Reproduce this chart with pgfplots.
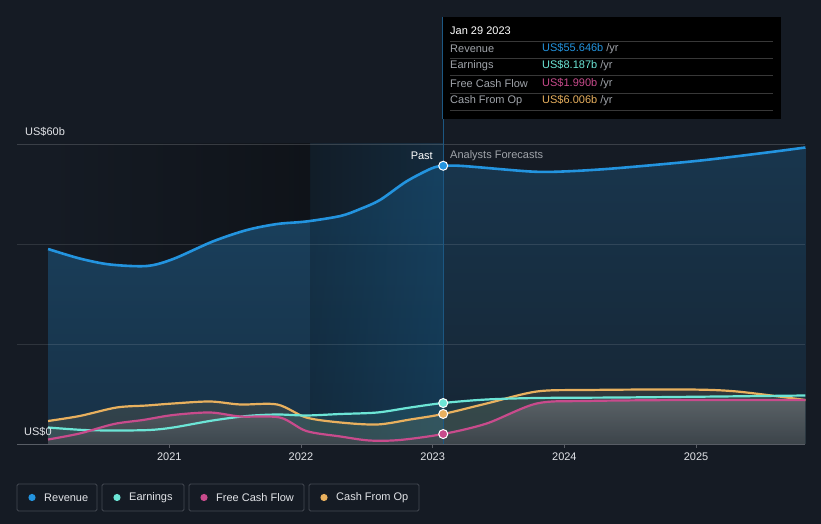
\documentclass[border=0pt]{standalone}
\usepackage{pgfplots}
\pgfplotsset{compat=1.18}
\usepackage{pgfplotstable}
\usepackage{fontspec}
\setmainfont{Liberation Sans}

\definecolor{bg}{HTML}{151B24}
\definecolor{pastbg}{HTML}{0F1319}
\definecolor{gridc}{HTML}{2F353F}
\definecolor{revc}{HTML}{2394DF}
\definecolor{earnc}{HTML}{6CE5D6}
\definecolor{fcfc}{HTML}{C84B8C}
\definecolor{cfoc}{HTML}{E8B05E}
\definecolor{labc}{HTML}{A0A4AA}
\definecolor{txtc}{HTML}{E2E4E8}

\pgfplotstableread{
x y
2020.08 39.0
2020.32 37.1
2020.55 35.9
2020.83 35.6
2021.03 37.0
2021.33 40.5
2021.59 42.8
2021.82 44.0
2022.04 44.5
2022.30 45.6
2022.45 47.0
2022.60 48.8
2022.80 52.5
2022.99 55.1
2023.08 55.6
2023.23 55.6
2023.74 54.5
2023.99 54.5
2024.37 55.1
2025.00 56.6
2025.51 58.2
2025.83 59.3
}\revenue

\pgfplotstableread{
x y
2020.08 3.3
2020.35 2.8
2020.60 2.7
2020.85 2.8
2021.03 3.3
2021.33 4.7
2021.59 5.6
2021.82 5.9
2022.04 5.7
2022.30 6.0
2022.58 6.3
2022.83 7.3
2023.08 8.2
2023.41 8.9
2023.79 9.2
2024.42 9.3
2025.18 9.5
2025.83 9.7
}\earnings

\pgfplotstableread{
x y
2020.08 0.9
2020.32 2.1
2020.58 4.0
2020.80 4.8
2021.03 5.8
2021.31 6.3
2021.54 5.5
2021.84 5.3
2022.04 2.6
2022.30 1.5
2022.52 0.7
2022.75 0.8
2023.08 2.0
2023.41 4.1
2023.79 8.1
2024.17 8.6
2024.93 8.8
2025.83 8.8
}\fcf

\pgfplotstableread{
x y
2020.08 4.6
2020.32 5.6
2020.60 7.3
2020.83 7.7
2021.03 8.1
2021.31 8.5
2021.54 7.9
2021.82 7.9
2022.04 5.3
2022.30 4.3
2022.58 3.9
2022.83 4.9
2023.08 6.0
2023.41 8.1
2023.79 10.5
2024.17 10.8
2024.93 10.9
2025.31 10.5
2025.83 8.8
}\cfo

\begin{document}
\begin{tikzpicture}[x=1bp,y=1bp,font=\fontsize{11bp}{13bp}\selectfont]
\fill[bg] (0,0) rectangle (821,524);
\useasboundingbox (0,0) rectangle (821,524);

\begin{axis}[
    at={(17bp,80bp)}, anchor=south west,
    scale only axis, width=788bp, height=300bp,
    xmin=2019.844, xmax=2025.827, ymin=0, ymax=60,
    axis line style={draw=none},
    xtick={2021,2022,2023,2024,2025}, xtick pos=bottom,
    ytick=\empty,
    major tick length=4bp, tick align=outside,
    xtick style={draw=gridc!80!white, line width=0.8bp},
    /pgf/number format/1000 sep={},
    /pgf/number format/assume math mode=true,
    xticklabel style={text=txtc, font=\fontsize{11bp}{13bp}\selectfont, yshift=-1bp},
    clip=false,
]
% darker past background
\fill[left color=bg, right color=pastbg] (axis cs:2020.08,0) rectangle (axis cs:2022.07,60);

% revenue area fills
\addplot[draw=none, top color=revc!32!bg, bottom color=revc!18!bg, restrict x to domain=2020:2023.081]
  table {\revenue} \closedcycle;
\addplot[draw=none, top color=revc!22!bg, bottom color=revc!8!bg, restrict x to domain=2023.079:2026]
  table {\revenue} \closedcycle;
\fill[left color=revc!25!bg, right color=revc!75!bg, fill opacity=0.22] (axis cs:2022.07,0) rectangle (axis cs:2023.08,60);

% small series fills
\addplot[draw=none, fill=cfoc, fill opacity=0.12, smooth] table {\cfo} \closedcycle;
\addplot[draw=none, fill=earnc, fill opacity=0.10, smooth] table {\earnings} \closedcycle;
\addplot[draw=none, top color=white!35!bg, bottom color=white!18!bg, fill opacity=0.75, smooth] table {\fcf} \closedcycle;

% grid lines and zero line
\draw[white, opacity=0.11, line width=0.8bp] (axis cs:2019.844,20) -- (axis cs:2025.827,20);
\draw[white, opacity=0.11, line width=0.8bp] (axis cs:2019.844,40) -- (axis cs:2025.827,40);
\draw[white, opacity=0.16, line width=0.8bp] (axis cs:2019.844,60) -- (axis cs:2025.827,60);
\draw[gridc!80!white, line width=0.8bp] (axis cs:2019.844,0) -- (axis cs:2025.827,0);

% lines
\addplot[revc, line width=2.6bp, smooth] table {\revenue};
\addplot[cfoc, line width=2.2bp, smooth] table {\cfo};
\addplot[earnc, line width=2.2bp, smooth] table {\earnings};
\addplot[fcfc, line width=2.2bp, smooth] table {\fcf};

% marker line
\draw[revc!50!bg, line width=1bp] (axis cs:2023.08,0) -- (axis cs:2023.08,85.4);

% markers
\addplot[only marks, mark=*, mark size=4.5bp, mark options={fill=revc, draw=white, line width=1bp}] coordinates {(2023.08,55.646)};
\addplot[only marks, mark=*, mark size=4.5bp, mark options={fill=earnc, draw=white, line width=1bp}] coordinates {(2023.08,8.187)};
\addplot[only marks, mark=*, mark size=4.5bp, mark options={fill=cfoc, draw=white, line width=1bp}] coordinates {(2023.08,6.006)};
\addplot[only marks, mark=*, mark size=4.5bp, mark options={fill=fcfc, draw=white, line width=1bp}] coordinates {(2023.08,1.990)};
\end{axis}

% y labels
\node[anchor=west, text=txtc, inner sep=0] at (25,392) {US\$60b};
\node[anchor=west, text=txtc, inner sep=0] at (24,92) {US\$0};

% past / forecast
\node[anchor=east, text=white, inner sep=0] at (433,368) {Past};
\node[anchor=west, text=labc, inner sep=0] at (450,368) {Analysts Forecasts};

% tooltip
\fill[black] (442,507) rectangle (781,405);
\draw[revc!50!bg, line width=1bp] (442,507) -- (442,405);
\node[anchor=west, text=white, inner sep=0] at (450,493) {Jan 29 2023};
\foreach \yy in {483,466,449,431,414} \draw[white!22!black, line width=0.8bp] (450,\yy) -- (773,\yy);
\node[anchor=west, text=labc, inner sep=0] at (450,475) {Revenue};
\node[anchor=west, text=labc, inner sep=0] at (450,458) {Earnings};
\node[anchor=west, text=labc, inner sep=0] at (450,440) {Free Cash Flow};
\node[anchor=west, text=labc, inner sep=0] at (450,423) {Cash From Op};
\node[anchor=west, inner sep=0] at (542,475) {\textcolor{revc}{US\$55.646b} \textcolor{labc}{/yr}};
\node[anchor=west, inner sep=0] at (542,458) {\textcolor{earnc}{US\$8.187b} \textcolor{labc}{/yr}};
\node[anchor=west, inner sep=0] at (542,440) {\textcolor{fcfc}{US\$1.990b} \textcolor{labc}{/yr}};
\node[anchor=west, inner sep=0] at (542,423) {\textcolor{cfoc}{US\$6.006b} \textcolor{labc}{/yr}};

% legend
\foreach \xa/\xb/\col/\lab in {17/97/revc/Revenue, 102/184/earnc/Earnings, 189/304/fcfc/Free Cash Flow, 309/419/cfoc/Cash From Op} {
  \draw[gridc!90!white, line width=0.8bp, rounded corners=1.5bp] (\xa,13) rectangle (\xb,40);
  \fill[\col] (\xa+15,26.5) circle (3.6);
  \node[anchor=west, text=txtc, inner sep=0] at (\xa+27,26.5) {\lab};
}
\end{tikzpicture}
\end{document}
